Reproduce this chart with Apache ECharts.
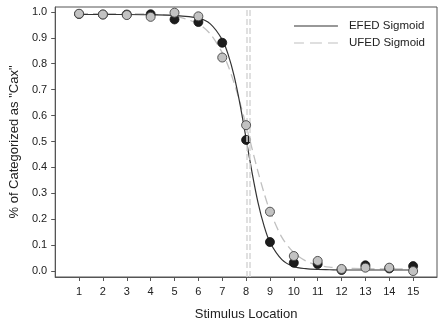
<!DOCTYPE html>
<html>
<head>
<meta charset="utf-8">
<script src="https://cdn.jsdelivr.net/npm/echarts@6/dist/echarts.min.js"></script>
<style>html,body{margin:0;padding:0;background:#fff}#c{width:444px;height:327px}</style>
</head>
<body>
<div id="c"></div>
<script>
// Observed data points (stimulus location 1..15)
var locations = [1,2,3,4,5,6,7,8,9,10,11,12,13,14,15];
var efedPoints = [0.992,0.99,0.99,0.991,0.971,0.961,0.881,0.506,0.112,0.032,0.027,0.004,0.022,0.01,0.019];
var ufedPoints = [0.993,0.99,0.988,0.981,0.997,0.983,0.824,0.563,0.229,0.058,0.039,0.008,0.013,0.013,0.0];
// Fitted sigmoid curves
var curveX    = [1,2,3,4,5,6,6.5,7,7.25,7.5,7.75,8,8.25,8.5,8.75,9,9.5,10,10.5,11,11.5,12,13,14,15];
var efedCurve = [0.99,0.99,0.99,0.989,0.987,0.976,0.954,0.893,0.835,0.752,0.641,0.511,0.38,0.264,0.175,0.111,0.044,0.017,0.009,0.006,0.005,0.004,0.004,0.004,0.004];
var ufedCurve = [0.993,0.993,0.993,0.991,0.984,0.954,0.915,0.843,0.791,0.725,0.648,0.562,0.472,0.383,0.302,0.232,0.13,0.071,0.039,0.023,0.015,0.0115,0.009,0.008,0.008];
// Midpoint (50%) markers
var midpoints = [8.03, 8.17];
var yTicks = [0,0.1,0.2,0.3,0.4,0.5,0.6,0.7,0.8,0.9,1.0];
var xTicks = [1,2,3,4,5,6,7,8,9,10,11,12,13,14,15];

function pairs(xs, ys){ return xs.map(function(x,i){ return [x, ys[i]]; }); }

var chart = echarts.init(document.getElementById('c'), null, {renderer:'canvas'});
var font = 'Liberation Sans, Arial, sans-serif';
chart.setOption({
  animation: false,
  textStyle: {fontFamily: font},
  grid: {left: 51, right: 7, top: 7, bottom: 50, show: true, borderColor: '#555', borderWidth: 1},
  legend: {
    right: 14, top: 15, orient: 'vertical', itemGap: 5, itemWidth: 44, itemHeight: 10,
    textStyle: {fontFamily: font, fontSize: 11.5, color: '#222', padding: [0,0,0,6]},
    data: [
      {name: 'EFED Sigmoid', icon: 'path://M0,5 L44,5 L44,6 L0,6 Z'},
      {name: 'UFED Sigmoid', icon: 'path://M0,5 L10,5 L10,6 L0,6 Z M16,5 L28,5 L28,6 L16,6 Z M34,5 L44,5 L44,6 L34,6 Z'}
    ]
  },
  xAxis: {
    type: 'value', min: 0, max: 16,
    name: 'Stimulus Location', nameLocation: 'middle', nameGap: 31,
    nameTextStyle: {fontFamily: font, fontSize: 13, color: '#222'},
    splitLine: {show: false},
    axisLine: {onZero: false, lineStyle: {color: '#555', width: 1}},
    axisTick: {inside: false, length: 4, customValues: xTicks, lineStyle: {color: '#555'}},
    axisLabel: {customValues: xTicks, fontSize: 11, color: '#222', margin: 9}
  },
  yAxis: {
    type: 'value', min: -0.023, max: 1.019,
    name: '% of Categorized as "Cax"', nameLocation: 'middle', nameGap: 31,
    nameTextStyle: {fontFamily: font, fontSize: 13, color: '#222'},
    splitLine: {show: false},
    axisLine: {show: true, onZero: false, lineStyle: {color: '#555', width: 1}},
    axisTick: {show: true, length: 4, customValues: yTicks, lineStyle: {color: '#555'}},
    axisLabel: {customValues: yTicks, fontSize: 11, color: '#222', margin: 8,
      formatter: function(v){ return v.toFixed(1); }}
  },
  series: [
    {
      name: 'midlines', type: 'line', data: [], silent: true,
      markLine: {
        symbol: 'none', silent: true, label: {show: false},
        lineStyle: {color: '#d6d6d6', type: [6,3], width: 1.5},
        data: midpoints.map(function(m){ return {xAxis: m}; })
      }
    },
    {
      name: 'EFED Sigmoid', type: 'line', data: pairs(curveX, efedCurve), smooth: 0.3,
      showSymbol: false, lineStyle: {color: '#333', width: 1.2}, itemStyle: {color: '#333'}, z: 3
    },
    {
      name: 'UFED Sigmoid', type: 'line', data: pairs(curveX, ufedCurve), smooth: 0.3,
      showSymbol: false, lineStyle: {color: '#c0c0c0', width: 1.3, type: [9,5]}, itemStyle: {color: '#c0c0c0'}, z: 2
    },
    {
      name: 'EFED', type: 'scatter', data: pairs(locations, efedPoints), symbolSize: 9,
      itemStyle: {color: '#1c1c1c', borderColor: '#111', borderWidth: 0.8, opacity: 1}, z: 4
    },
    {
      name: 'UFED', type: 'scatter', data: pairs(locations, ufedPoints), symbolSize: 9,
      itemStyle: {color: '#c2c2c2', borderColor: '#444', borderWidth: 0.9, opacity: 1}, z: 5
    }
  ]
});
</script>
</body>
</html>
